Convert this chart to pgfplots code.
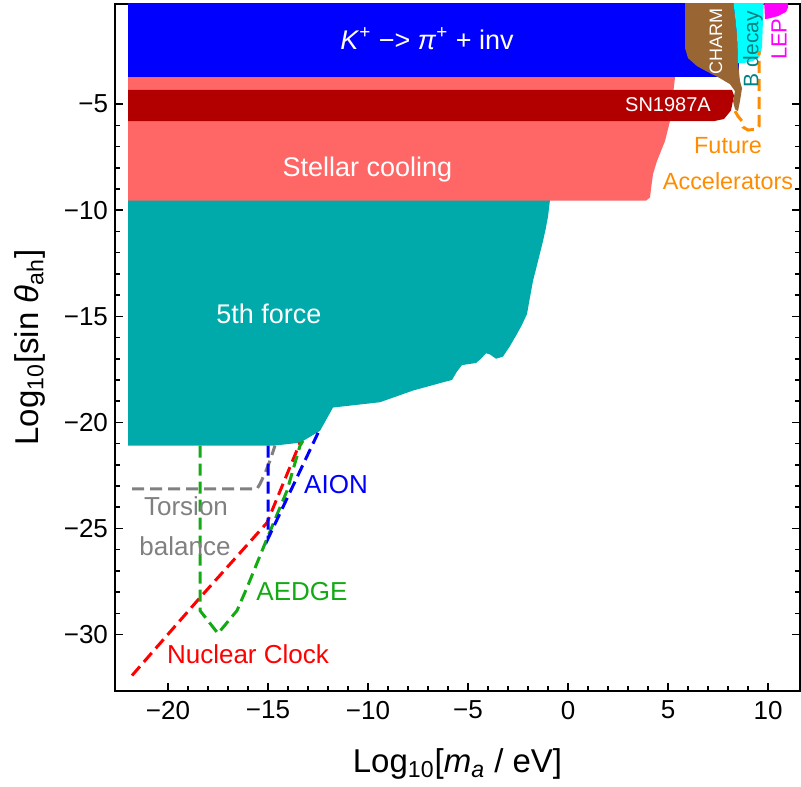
\documentclass[border=0pt]{standalone}
\usepackage{pgfplots}
\pgfplotsset{compat=1.18}
\usepackage{fontspec}
\setmainfont{Liberation Sans}
\definecolor{kblue}{RGB}{0,0,255}
\definecolor{stell}{RGB}{255,102,102}
\definecolor{snred}{RGB}{178,0,0}
\definecolor{fifth}{RGB}{0,170,170}
\definecolor{charm}{RGB}{153,102,51}
\definecolor{bcyan}{RGB}{0,255,255}
\definecolor{bdtxt}{RGB}{0,130,130}
\definecolor{lepm}{RGB}{255,0,255}
\definecolor{futor}{RGB}{255,140,0}
\definecolor{aedge}{RGB}{20,170,20}
\definecolor{tors}{RGB}{128,128,128}
\definecolor{nucl}{RGB}{255,0,0}
\begin{document}
\begin{tikzpicture}
\begin{axis}[
  scale only axis, width=342.5bp, height=343.5bp,
  xmin=-22.65, xmax=11.6, ymin=-32.66, ymax=-0.28,
  xtick={-20,-15,...,10}, xticklabels={−20,−15,−10,−5,0,5,10},
  ytick={-30,-25,...,-5}, yticklabels={−30,−25,−20,−15,−10,−5},
  minor x tick num=4, minor y tick num=4,
  tick align=inside, major tick length=4bp, minor tick length=2.3bp,
  every tick/.style={black, line width=0.8bp},
  axis line style={line width=1bp},
  tick label style={font=\fontsize{13bp}{15bp}\selectfont},
  xticklabel style={yshift=-1.5bp},
  label style={font=\fontsize{16.5bp}{19bp}\selectfont},
  xlabel={Log\textsubscript{10}[\textit{m}\textsubscript{\textit{a}} / eV]},
  ylabel={Log\textsubscript{10}[sin \textit{θ}\textsubscript{ah}]},
  xlabel style={at={(axis description cs:0.5,-0.1063)}, anchor=center},
  ylabel style={at={(axis description cs:-0.1245,0.5)}, anchor=center, rotate=0},
  clip=true,
]
% 5th force
\addplot[draw=none, fill=fifth] coordinates {
 (-22,-9.52) (-0.9,-9.52) (-1.0,-10.3) (-1.12,-10.9) (-1.25,-11.45) (-1.5,-12.4) (-1.75,-13.33)
 (-1.9,-14.1) (-2.05,-14.89) (-2.3,-15.4) (-2.55,-15.83) (-2.9,-16.4) (-3.25,-16.9)
 (-3.6,-17.0) (-3.9,-16.8) (-4.1,-16.74) (-4.35,-17.0) (-4.6,-17.2) (-5.3,-17.3)
 (-5.55,-17.6) (-5.8,-18.0) (-6.4,-18.15) (-7.75,-18.5) (-9.4,-19.05) (-11.75,-19.3)
 (-12.4,-20.4) (-13.4,-20.96) (-14.75,-21.1) (-22,-21.1)} -- cycle;
% Stellar cooling
\addplot[draw=none, fill=stell] coordinates {
 (-22,-3.73) (5.35,-3.73) (5.2,-5.0) (5.1,-5.8) (4.85,-6.74) (4.45,-7.68) (4.25,-8.3)
 (4.15,-9.0) (4.1,-9.4) (3.9,-9.55) (-22,-9.55)} -- cycle;
% K+ -> pi+ inv
\addplot[draw=none, fill=kblue] coordinates {
 (-22,0) (8.55,0) (8.55,-3.73) (-22,-3.73)} -- cycle;
% SN1987A
\addplot[draw=none, fill=snred] coordinates {
 (-22,-4.33) (8.2,-4.33) (8.3,-4.6) (8.15,-5.3) (7.8,-5.7) (7.3,-5.8) (-22,-5.8)} -- cycle;
% CHARM
\addplot[draw=none, fill=charm] coordinates {
 (5.85,0) (8.25,0) (8.45,-1.7) (8.5,-3.07) (8.6,-3.92) (8.7,-4.25) (8.6,-4.86)
 (8.5,-5.33) (8.35,-5.24) (8.25,-4.86) (8.35,-4.39) (8.1,-4.06) (7.6,-3.78)
 (7.1,-3.54) (6.45,-3.21) (6.0,-2.83) (5.85,-2.36)} -- cycle;
% B decay
\addplot[draw=none, fill=bcyan] coordinates {
 (8.25,0) (9.8,0) (9.75,-1.0) (9.7,-2.3) (9.6,-2.74) (9.25,-2.97) (8.75,-3.07)
 (8.5,-3.07) (8.45,-1.7)} -- cycle;
% LEP
\addplot[draw=none, fill=lepm] coordinates {
 (9.8,0) (11.0,0) (11.0,-0.45) (10.9,-0.65) (10.5,-0.85) (10.1,-0.95) (9.85,-1.0)} -- cycle;
% Future accelerators
\addplot[futor, line width=1.5bp, dash pattern=on 6bp off 3bp] coordinates {
 (8.35,-5.33) (8.5,-5.57) (8.7,-5.8) (8.75,-6.08) (9.0,-6.22) (9.45,-6.18)
 (9.55,-6.03) (9.55,-2.5)};
% Torsion balance
\addplot[tors, line width=1.5bp, dash pattern=on 6bp off 3bp] coordinates {
 (-21.8,-23.13) (-15.55,-23.13) (-15.4,-22.9) (-15.15,-22.4) (-14.9,-21.8) (-14.65,-21.1)};
% Nuclear clock
\addplot[nucl, line width=1.5bp, dash pattern=on 6bp off 3bp] coordinates {
 (-21.8,-31.93) (-18.4,-28.26) (-15.05,-24.73) (-13.4,-20.96)};
% AEDGE
\addplot[aedge, line width=1.5bp, dash pattern=on 6bp off 3bp] coordinates {
 (-18.4,-21.1) (-18.4,-28.87) (-17.5,-29.95) (-16.55,-28.87) (-16.05,-27.79)
 (-15.05,-25.48) (-14.05,-23.22) (-13.4,-21.1) (-13.25,-20.87)};
% AION
\addplot[kblue, line width=1.5bp, dash pattern=on 6bp off 3bp] coordinates {
 (-15,-21.1) (-15,-25.48) (-12.4,-20.3)};
% labels
\node[white, anchor=base, font=\fontsize{13.5bp}{16bp}\selectfont] at (axis cs:-7.05,-2.41)
  {\textit{K}\textsuperscript{+} −> \textit{π}\textsuperscript{+} + inv};
\node[white, anchor=base, font=\fontsize{10bp}{12bp}\selectfont] at (axis cs:5.0,-5.33) {SN1987A};
\node[white, anchor=base, font=\fontsize{13.5bp}{16bp}\selectfont] at (axis cs:-10.03,-8.39) {Stellar cooling};
\node[white, anchor=base, font=\fontsize{13.5bp}{16bp}\selectfont] at (axis cs:-14.95,-15.36) {5th force};
\node[white, rotate=90, anchor=center, font=\fontsize{9bp}{11bp}\selectfont] at (axis cs:7.4,-2.03) {CHARM};
\node[bdtxt, rotate=90, anchor=center, font=\fontsize{10.5bp}{12bp}\selectfont] at (axis cs:9.25,-2.41) {B decay};
\node[lepm, rotate=90, anchor=center, font=\fontsize{11bp}{13bp}\selectfont] at (axis cs:10.55,-1.94) {LEP};
\node[futor, anchor=base, font=\fontsize{11.7bp}{14bp}\selectfont] at (axis cs:8.0,-7.31) {Future};
\node[futor, anchor=base, font=\fontsize{11.7bp}{14bp}\selectfont] at (axis cs:8.0,-9.0) {Accelerators};
\node[tors, anchor=base, font=\fontsize{13bp}{15bp}\selectfont] at (axis cs:-19.1,-24.4) {Torsion};
\node[tors, anchor=base, font=\fontsize{13bp}{15bp}\selectfont] at (axis cs:-19.15,-26.28) {balance};
\node[kblue, anchor=base, font=\fontsize{13bp}{15bp}\selectfont] at (axis cs:-11.6,-23.36) {AION};
\node[aedge, anchor=base, font=\fontsize{13bp}{15bp}\selectfont] at (axis cs:-13.3,-28.4) {AEDGE};
\node[nucl, anchor=base, font=\fontsize{13bp}{15bp}\selectfont] at (axis cs:-16.0,-31.37) {Nuclear Clock};
\end{axis}
\path ([xshift=-57.5bp,yshift=-45bp]current axis.south west) rectangle ([xshift=0.5bp,yshift=2bp]current axis.north east);
\end{tikzpicture}
\end{document}
